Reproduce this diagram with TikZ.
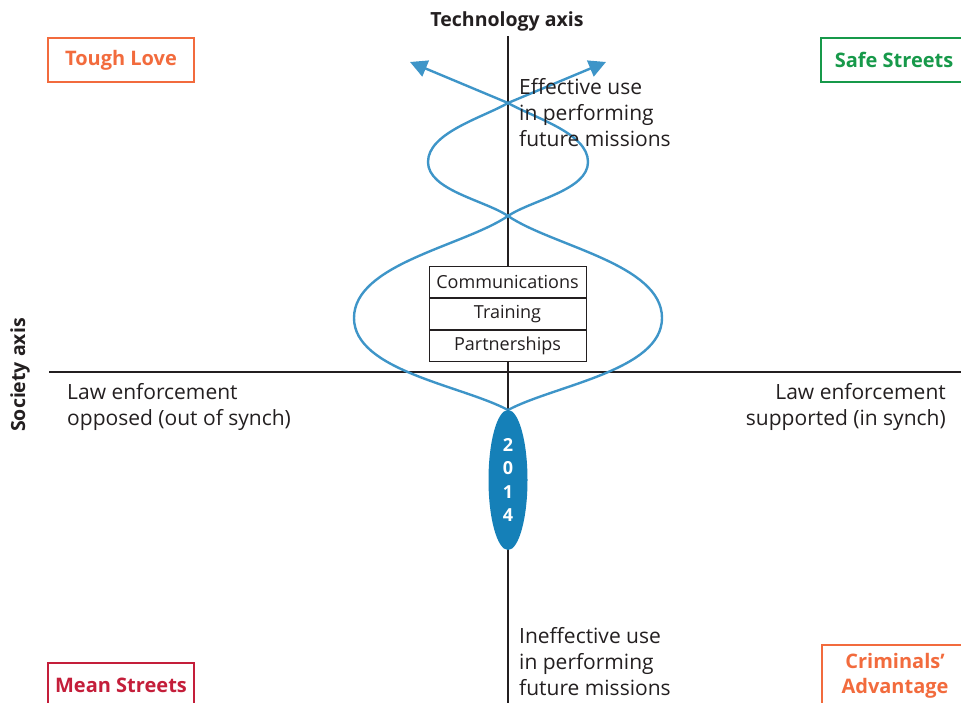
\documentclass[tikz,border=0pt]{standalone}
\usepackage{fontspec}
\setmainfont{Open Sans}
\usetikzlibrary{arrows.meta,shapes.geometric}
\definecolor{helix}{HTML}{3E95C8}
\definecolor{yearblue}{HTML}{1580B8}
\definecolor{tough}{HTML}{F26B3D}
\definecolor{safe}{HTML}{17994A}
\definecolor{mean}{HTML}{C41E3A}
\definecolor{axisc}{HTML}{231F20}
\definecolor{txt}{HTML}{231F20}
\tikzset{
  axisline/.style={draw=axisc, line width=2.2pt},
  helixline/.style={draw=helix, line width=2.4pt},
  scenario/.style={draw=#1, text=#1, line width=2pt, minimum width=146pt, font=\bfseries\fontsize{20}{25}\selectfont, inner sep=0pt, align=center},
  lbl/.style={text=txt, font=\fontsize{21}{26}\selectfont, inner sep=0pt},
  cell/.style={draw=axisc, line width=1pt, minimum width=157pt, minimum height=31pt, inner sep=0pt, font=\fontsize{18}{20}\selectfont, text=txt},
  axislabel/.style={font=\bfseries\fontsize{19.5}{22}\selectfont, text=txt, inner sep=0pt},
  tip/.style={-{Triangle[length=17pt,width=17pt]}}
}
\begin{document}
\begin{tikzpicture}[x=1pt,y=1pt]
\path[use as bounding box] (0,0) rectangle (961,703);
\clip (0,0) rectangle (961,703);
% axes
\coordinate (vtop) at (508,667);
\coordinate (vbot) at (508,-2);
\coordinate (hl) at (49,331);
\coordinate (hr) at (963,331);
\draw[axisline] (vbot) -- (vtop);
\draw[axisline] (hl) -- (hr);
\node[axislabel] (tech) at (507,682) {Technology axis};
\node[axislabel, rotate=90] (soc) at (20,328) {Society axis};
% scenario boxes
\node[scenario=tough, minimum height=44pt] (tl) at (121,643) {Tough Love};
\node[scenario=safe, minimum height=44pt] (ss) at (894,643) {Safe Streets};
\node[scenario=mean, minimum height=44pt] (ms) at (121,18) {Mean Streets};
\node[scenario=tough, minimum height=62pt] (ca) at (895,27) {Criminals’\\Advantage};
% helix
\coordinate (p0) at (508,293);
\coordinate (l1) at (354,385);
\coordinate (r1) at (662,385);
\coordinate (c1) at (508,487);
\coordinate (r2) at (588,541);
\coordinate (l2) at (428,541);
\coordinate (c2) at (508,600);
\coordinate (al) at (410,641);
\coordinate (ar) at (606,641);
\draw[helixline, tip] (p0) to[out=152,in=-90,looseness=0.75] (l1) to[out=90,in=-146,looseness=0.75] (c1)
   to[out=34,in=-90,looseness=0.75] (r2) to[out=90,in=-30,looseness=0.75] (c2) -- (al);
\draw[helixline, tip] (p0) to[out=28,in=-90,looseness=0.75] (r1) to[out=90,in=-34,looseness=0.75] (c1)
   to[out=146,in=-90,looseness=0.75] (l2) to[out=90,in=-150,looseness=0.75] (c2) -- (ar);
% cells
\node[cell, fill=white] (comm) at (507.5,421) {Communications};
\node[cell, fill=white, anchor=north] (train) at (comm.south) {Training};
\node[cell, fill=white, anchor=north] (part) at (train.south) {Partnerships};
% year
\node[ellipse, fill=yearblue, minimum width=39pt, minimum height=140pt, inner sep=0pt,
  text=white, font=\bfseries\fontsize{18}{23.5}\selectfont, align=center] (yr) at (508,223) {2\\0\\1\\4};
% labels
\node[lbl, anchor=west, align=left] (eff) at (519,590) {Effective use\\in performing\\future missions};
\node[lbl, anchor=west, align=left] (ineff) at (519,41) {Ineffective use\\in performing\\future missions};
\node[lbl, anchor=west, align=left] (opp) at (67,296) {Law enforcement\\opposed (out of synch)};
\node[lbl, anchor=east, align=right] (sup) at (946,296) {Law enforcement\\supported (in synch)};
\end{tikzpicture}
\end{document}
